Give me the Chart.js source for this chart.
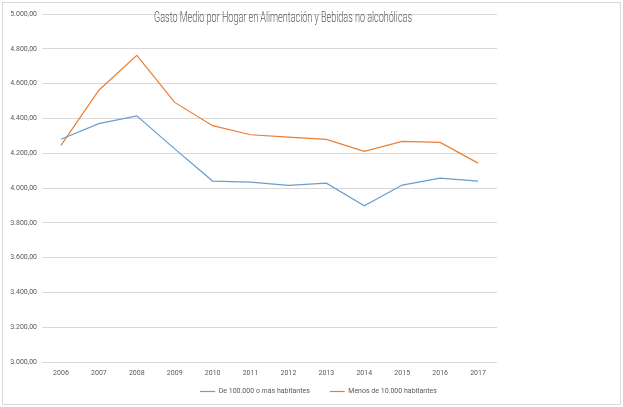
<!DOCTYPE html>
<html>
<head>
<meta charset="utf-8">
<script src="https://cdn.jsdelivr.net/npm/chart.js@4.4.1/dist/chart.umd.min.js"></script>
<style>
  body { margin: 0; background: #fff; }
  .box { position: absolute; left: 2px; top: 2px; width: 617px; height: 401px; border: 1px solid #d9d9d9; }
</style>
</head>
<body>
<div class="box"><canvas id="chart"></canvas></div>
<script>
const years = ['2006', '2007', '2008', '2009', '2010', '2011', '2012', '2013', '2014', '2015', '2016', '2017'];
const grandes = [4280, 4370, 4415, 4225, 4040, 4034, 4015, 4028, 3898, 4017, 4057, 4040];
const pequenos = [4245, 4562, 4762, 4492, 4358, 4306, 4292, 4279, 4211, 4268, 4262, 4143];
const titulo = 'Gasto Medio por Hogar en Alimentación y Bebidas no alcohólicas';

const tickFont = { family: 'Roboto, sans-serif', size: 7 };

// 4.200,00 style labels
function fmt(v) {
  const s = Math.round(v).toString();
  return s.replace(/\B(?=(\d{3})+(?!\d))/g, '.') + ',00';
}

// title sits inside the plot area, squeezed like the narrow font of the original
const titlePlugin = {
  id: 'titleInside',
  afterDraw(chart) {
    const ctx = chart.ctx;
    ctx.save();
    ctx.font = '300 14px Roboto, sans-serif';
    ctx.fillStyle = '#595959';
    ctx.textAlign = 'center';
    ctx.textBaseline = 'middle';
    const w = ctx.measureText(titulo).width;
    ctx.translate(280, 15);
    ctx.scale(258 / w, 1);
    ctx.fillText(titulo, 0, 0);
    ctx.restore();
  }
};

// wide gap between legend items but a short legend box:
// shrink the box and let it draw a bit higher
const legendFix = {
  id: 'legendFix',
  beforeLayout(chart) {
    const lg = chart.legend;
    if (!lg || lg._fixed) return;
    lg._fixed = true;
    const fit = lg.fit;
    lg.fit = function () { fit.call(this); this.height = 24; };
    const draw = lg.draw;
    lg.draw = function () {
      const { top, left, right } = this;
      this.top = top - 12;
      this.left = left + 7;
      this.right = right + 7;
      draw.call(this);
      this.top = top;
      this.left = left;
      this.right = right;
    };
  }
};

new Chart(document.getElementById('chart'), {
  type: 'line',
  data: {
    labels: years,
    datasets: [
      {
        label: 'De 100.000 o más habitantes',
        data: grandes,
        borderColor: 'rgb(105,158,205)',
        backgroundColor: 'rgb(105,158,205)',
        borderWidth: 1.2,
        pointRadius: 0,
        tension: 0,
      },
      {
        label: 'Menos de 10.000 habitantes',
        data: pequenos,
        borderColor: 'rgb(237,125,49)',
        backgroundColor: 'rgb(237,125,49)',
        borderWidth: 1.2,
        pointRadius: 0,
        tension: 0,
      },
    ],
  },
  options: {
    responsive: true,
    maintainAspectRatio: false,
    animation: false,
    layout: { padding: { top: 11, right: 0, left: 0, bottom: 0 } },
    plugins: {
      tooltip: { enabled: false },
      legend: {
        position: 'bottom',
        labels: {
          usePointStyle: true,
          pointStyle: 'line',
          pointStyleWidth: 15,
          padding: 20,
          color: '#595959',
          font: tickFont,
        },
      },
    },
    scales: {
      x: {
        offset: true,
        grid: { display: false, drawTicks: false },
        border: { display: false },
        ticks: { color: '#595959', font: tickFont, padding: 7, maxRotation: 0 },
        afterFit: (s) => { s.height = 18; },
      },
      y: {
        min: 3000,
        max: 5000,
        grid: { color: '#d9d9d9', drawTicks: false },
        border: { display: false },
        ticks: {
          stepSize: 200,
          padding: 5,
          color: '#595959',
          font: tickFont,
          callback: (v) => fmt(v),
        },
        afterFit: (s) => { s.width = 39; },
      },
      // empty space at the right of the plot
      hueco: {
        position: 'right',
        display: true,
        grid: { display: false },
        border: { display: false },
        ticks: { display: false },
        afterFit: (s) => { s.width = 123; },
      },
    },
  },
  plugins: [titlePlugin, legendFix],
});
</script>
</body>
</html>
